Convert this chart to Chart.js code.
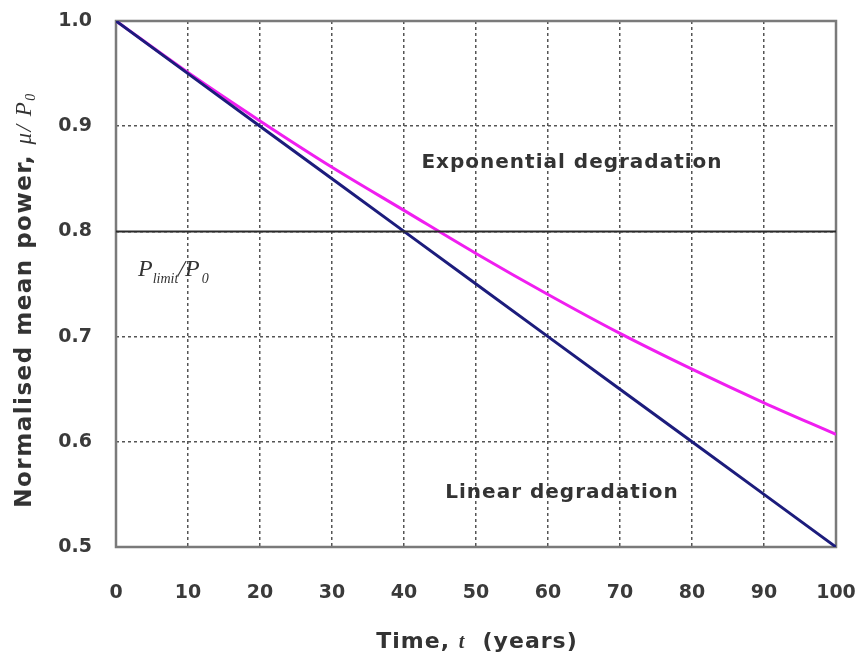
<!DOCTYPE html>
<html>
<head>
<meta charset="utf-8">
<script src="https://cdn.jsdelivr.net/npm/chart.js@4"></script>
<style>
  html, body { margin: 0; padding: 0; background: #fff; }
  #wrap { width: 860px; height: 662px; }
</style>
</head>
<body>
<div id="wrap"><canvas id="chart" width="860" height="662"></canvas></div>
<script>
/* Data */
const years = [0, 10, 20, 30, 40, 50, 60, 70, 80, 90, 100];
const exponential = [1.0, 0.951, 0.905, 0.861, 0.820, 0.779, 0.740, 0.703, 0.669, 0.637, 0.607];
const linear = [1.0, 0.95, 0.90, 0.85, 0.80, 0.75, 0.70, 0.65, 0.60, 0.55, 0.50];
const limitX = [0, 100];
const limitY = [0.8, 0.8];
const yTicks = [0.5, 0.6, 0.7, 0.8, 0.9, 1.0];

const pts = (xs, ys) => xs.map((x, i) => ({ x: x, y: ys[i] }));

const SANS = '"DejaVu Sans", Verdana, sans-serif';
const SERIF = '"Liberation Serif", "Times New Roman", serif';

/* write a run of [font, text, dy] pieces centred on cx */
function runText(c, parts, cx, y) {
    let w = 0;
    parts.forEach(p => { c.font = p[0]; w += c.measureText(p[1]).width; });
    let x = cx - w / 2;
    parts.forEach(p => {
        c.font = p[0];
        c.fillText(p[1], x, y + (p[2] || 0));
        x += c.measureText(p[1]).width;
    });
}

/* keep tick labels from pushing the plot area around */
const noPad = s => {
    s.paddingTop = 0; s.paddingBottom = 0;
    s.paddingLeft = 0; s.paddingRight = 0;
};

/* Frame, labels and axis titles */
const decor = {
    id: "decor",
    beforeDatasetsDraw(chart) {
        const a = chart.chartArea, c = chart.ctx;
        c.save();
        c.strokeStyle = "#7a7a7a";
        c.lineWidth = 2.5;
        c.strokeRect(a.left, a.top, a.right - a.left, a.bottom - a.top);
        c.restore();
    },
    afterDraw(chart) {
        const c = chart.ctx;
        c.save();
        c.fillStyle = "#333";
        c.textBaseline = "alphabetic";
        c.textAlign = "left";

        // in-plot labels
        c.letterSpacing = "1px";
        runText(c, [["bold 20px " + SANS, "Exponential degradation"]], 572, 168);
        runText(c, [["bold 20px " + SANS, "Linear degradation"]], 562, 498);

        // x title: Time, t (years)
        runText(c, [["bold 22px " + SANS, "Time, "], ["italic bold 20px " + SERIF, "t"], ["bold 22px " + SANS, "  (years)"]], 477, 648);

        // y title (rotated)
        c.save();
        c.translate(31, 300);
        c.rotate(-Math.PI / 2);
        c.letterSpacing = "1.5px";
        runText(c, [["bold 23px " + SANS, "Normalised mean power, "], ["italic 23px " + SERIF, "\u03bc/ P"], ["italic 14px " + SERIF, "0", 4]], 0, 0);
        c.restore();

        // P_limit / P_0
        c.letterSpacing = "0px";
        let x = 138;
        c.font = "italic 24px " + SERIF;
        c.fillText("P", x, 276); x += c.measureText("P").width;
        c.font = "italic 14px " + SERIF;
        c.fillText("limit", x, 283); x += c.measureText("limit").width;
        c.font = "italic 24px " + SERIF;
        c.fillText("/P", x, 276); x += c.measureText("/P").width + 2;
        c.font = "italic 14px " + SERIF;
        c.fillText("0", x, 283);
        c.restore();
    }
};

new Chart(document.getElementById("chart"), {
    type: "line",
    data: {
        datasets: [
            {
                label: "Limit",
                data: pts(limitX, limitY),
                borderColor: "#2a2a2a",
                borderWidth: 2,
                pointRadius: 0
            },
            {
                label: "Linear degradation",
                data: pts(years, linear),
                borderColor: "#1c1c7c",
                borderWidth: 3,
                pointRadius: 0
            },
            {
                label: "Exponential degradation",
                data: pts(years, exponential),
                borderColor: "#f01ef0",
                borderWidth: 3,
                pointRadius: 0,
                cubicInterpolationMode: "monotone"
            }
        ]
    },
    options: {
        responsive: false,
        animation: false,
        layout: { padding: { top: 21, right: 24, left: 0, bottom: 0 } },
        plugins: { legend: { display: false }, tooltip: { enabled: false } },
        scales: {
            x: {
                type: "linear",
                min: 0,
                max: 100,
                afterFit: s => { s.height = 115; noPad(s); },
                ticks: {
                    stepSize: 10,
                    padding: 35,
                    color: "#3a3a3a",
                    font: { family: SANS, size: 19, weight: "bold" }
                },
                grid: {
                    color: "#555",
                    lineWidth: 1.5,
                    tickLength: 0,
                    drawTicks: false
                },
                border: { display: false, dash: [3, 3] }
            },
            y: {
                type: "linear",
                min: 0.5,
                max: 1.0,
                afterFit: s => { s.width = 116; noPad(s); },
                afterBuildTicks: s => { s.ticks = yTicks.map(v => ({ value: v })); },
                ticks: {
                    padding: 24,
                    color: "#3a3a3a",
                    font: { family: SANS, size: 19, weight: "bold" },
                    callback: v => v.toFixed(1)
                },
                grid: {
                    color: "#555",
                    lineWidth: 1.5,
                    drawTicks: false
                },
                border: { display: false, dash: [3, 3] }
            }
        }
    },
    plugins: [decor]
});
</script>
</body>
</html>
